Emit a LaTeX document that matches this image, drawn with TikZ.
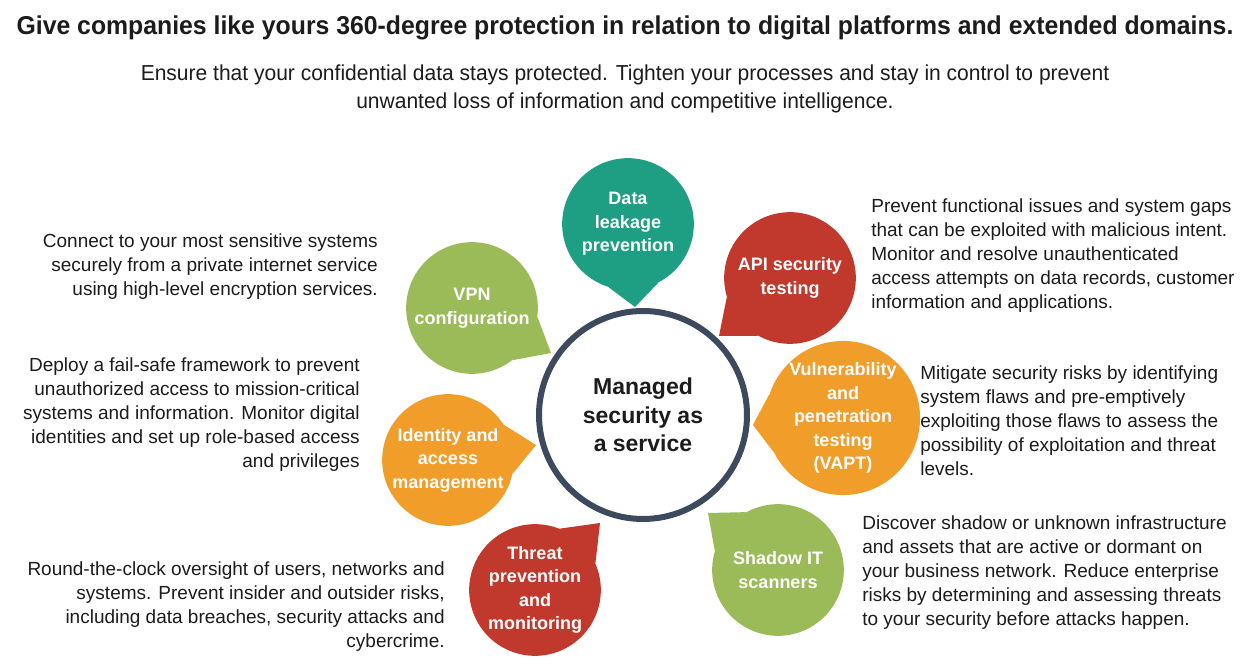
\documentclass[tikz,border=0pt]{standalone}
\usepackage{fontspec}
\setmainfont{Liberation Sans}
\newfontfamily\titlefont[FakeStretch=0.96]{Liberation Sans}
\newfontfamily\leadfont[FakeStretch=0.97]{Liberation Sans}
\definecolor{tealbub}{HTML}{1E9E82}
\definecolor{redbub}{HTML}{C1392D}
\definecolor{greenbub}{HTML}{9BBB59}
\definecolor{orangebub}{HTML}{F19D2A}
\definecolor{ringcol}{HTML}{3D4A5E}
\definecolor{bodytext}{HTML}{1C1C1C}
\begin{document}
\begin{tikzpicture}[
    x=0.6pt,
    y=-0.6pt,
    bubble/.style={
        circle,
        inner sep=0pt,
        minimum size=79pt,
        align=center,
        text=white,
        font=\fontsize{10.8}{14.1}\selectfont\bfseries
    },
    infotext/.style={
        inner sep=0pt,
        text=bodytext,
        font=\fontsize{11.4}{14.4}\selectfont
    }
]
    \useasboundingbox[fill=white] (0,0) rectangle (1250,665);

    \node[font=\titlefont\fontsize{15.5}{18}\selectfont\bfseries,text=bodytext] (titre) at (625,28)
        {Give companies like yours 360-degree protection in relation to digital platforms and extended domains.};
    \node[font=\leadfont\fontsize{13}{16.8}\selectfont,text=bodytext,align=center] (soustitre) at (625,89)
        {Ensure that your confidential data stays protected. Tighten your processes and stay in control to prevent\\
        unwanted loss of information and competitive intelligence.};

    \node[circle,draw=ringcol,line width=3.6pt,minimum size=124.8pt,align=center,
        font=\fontsize{13.8}{17.1}\selectfont\bfseries,text=bodytext] (centre) at (643,415)
        {Managed\\security as\\a service};

    \node[bubble,fill=tealbub] (dlp) at (628,224) {Data\\leakage\\prevention};
    \node[bubble,fill=redbub] (api) at (790,278) {API security\\testing};
    \node[bubble,fill=greenbub] (vpn) at (472,308) {VPN\\configuration};
    \node[bubble,fill=orangebub] (vapt) at (843,418)
        {Vulnerability\\and\\penetration\\testing\\(VAPT)};
    \node[bubble,fill=orangebub] (iam) at (448,460) {Identity and\\access\\management};
    \node[bubble,fill=redbub] (tpm) at (535,590) {Threat\\prevention\\and\\monitoring};
    \node[bubble,fill=greenbub] (shadow) at (778,570) {Shadow IT\\scanners};

    \coordinate (dlp tip) at (635,307);
    \coordinate (api tip) at (719,336);
    \coordinate (vpn tip) at (551,353);
    \coordinate (vapt tip) at (753,425);
    \coordinate (iam tip) at (536,445);
    \coordinate (tpm tip) at (600,523);
    \coordinate (shadow tip) at (708,513);

    \fill[tealbub] (dlp.253) -- (dlp tip) -- (dlp.297) -- cycle;
    \fill[redbub] (api.197) -- (api tip) -- (api.241) -- cycle;
    \fill[greenbub] (vpn.308) -- (vpn tip) -- (vpn.352) -- cycle;
    \fill[orangebub] (vapt.162) -- (vapt tip) -- (vapt.206) -- cycle;
    \fill[orangebub] (iam.348) -- (iam tip) -- (iam.32) -- cycle;
    \fill[redbub] (tpm.24) -- (tpm tip) -- (tpm.68) -- cycle;
    \fill[greenbub] (shadow.119) -- (shadow tip) -- (shadow.163) -- cycle;

    \node[infotext,align=right,anchor=east] (vpn texte) at (378,267)
        {Connect to your most sensitive systems\\
        securely from a private internet service\\
        using high-level encryption services.};
    \node[infotext,align=right,anchor=east] (iam texte) at (360,415)
        {Deploy a fail-safe framework to prevent\\
        unauthorized access to mission-critical\\
        systems and information. Monitor digital\\
        identities and set up role-based access\\
        and privileges};
    \node[infotext,align=right,anchor=east] (tpm texte) at (445,607)
        {Round-the-clock oversight of users, networks and\\
        systems. Prevent insider and outsider risks,\\
        including data breaches, security attacks and\\
        cybercrime.};
    \node[infotext,align=left,anchor=west] (api texte) at (871,256)
        {Prevent functional issues and system gaps\\
        that can be exploited with malicious intent.\\
        Monitor and resolve unauthenticated\\
        access attempts on data records, customer\\
        information and applications.};
    \node[infotext,align=left,anchor=west] (vapt texte) at (920,421)
        {Mitigate security risks by identifying\\
        system flaws and pre-emptively\\
        exploiting those flaws to assess the\\
        possibility of exploitation and threat\\
        levels.};
    \node[infotext,align=left,anchor=west] (shadow texte) at (862,573)
        {Discover shadow or unknown infrastructure\\
        and assets that are active or dormant on\\
        your business network. Reduce enterprise\\
        risks by determining and assessing threats\\
        to your security before attacks happen.};
\end{tikzpicture}
\end{document}
